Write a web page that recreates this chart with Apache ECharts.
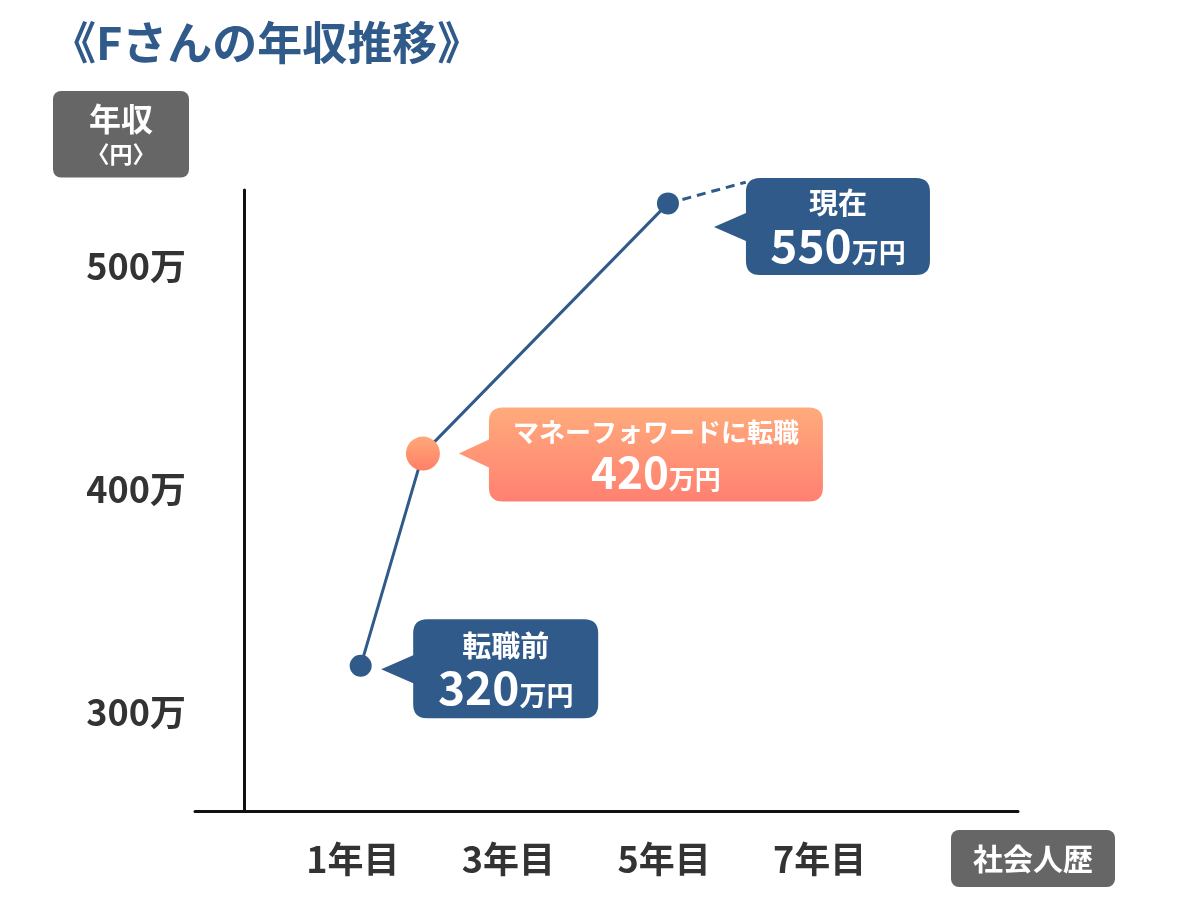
<!DOCTYPE html>
<html>
<head>
<meta charset="utf-8">
<script src="https://cdn.jsdelivr.net/npm/echarts@6/dist/echarts.min.js"></script>
<style>
  html, body { margin: 0; padding: 0; background: #fff; }
  #container { width: 1200px; height: 909px; }
</style>
</head>
<body>
<div id="container"></div>
<script>
const dom = document.getElementById('container')
const myChart = echarts.init(dom)

// 社会人歴 (年目) and 年収 (万円) as plotted
const years = [1.1, 1.9, 5.05]
const income = [321, 416, 528]
const futureYears = [5.05, 6.05]
const futureIncome = [528, 537.5]
const xTicks = [1, 3, 5, 7]
const yTicks = [300, 400, 500]
const notes = ['転職前', 'マネーフォワードに転職', '現在']
const noteValues = [320, 420, 550]

const blue = '#2f5a8a'
const font = '"Noto Sans CJK JP", "Noto Sans", sans-serif'

// speech bubble with a pointer on the left
function bubble(w, h, r, p, ty, bh) {
    return 'path://M' + (p + r) + ' 0 H' + (p + w - r) +
        ' Q' + (p + w) + ' 0 ' + (p + w) + ' ' + r +
        ' V' + (h - r) + ' Q' + (p + w) + ' ' + h + ' ' + (p + w - r) + ' ' + h +
        ' H' + (p + r) + ' Q' + p + ' ' + h + ' ' + p + ' ' + (h - r) +
        ' V' + (ty + bh) + ' L0 ' + ty + ' L' + p + ' ' + (ty - bh) +
        ' V' + r + ' Q' + p + ' 0 ' + (p + r) + ' 0 Z'
}

const orangeGrad = new echarts.graphic.LinearGradient(0, 0, 0, 1, [
    { offset: 0, color: '#ffab7c' },
    { offset: 1, color: '#ff8071' }
])
const dotGrad = new echarts.graphic.LinearGradient(0, 0, 0, 1, [
    { offset: 0, color: '#ffa877' },
    { offset: 1, color: '#ff7f68' }
])

const richBlue = {
    a: { fontSize: 29, fontWeight: 'bold', color: '#fff', lineHeight: 38, fontFamily: font },
    b: { fontSize: 46, fontWeight: 'bold', color: '#fff', lineHeight: 46, fontFamily: font },
    c: { fontSize: 27, fontWeight: 'bold', color: '#fff', lineHeight: 46, fontFamily: font, verticalAlign: 'bottom', padding: [0, 0, 2, 0] }
}
const richOrange = {
    a: { fontSize: 26, fontWeight: 'bold', color: '#fff', lineHeight: 36, fontFamily: font },
    b: { fontSize: 44, fontWeight: 'bold', color: '#fff', lineHeight: 44, fontFamily: font },
    c: { fontSize: 26, fontWeight: 'bold', color: '#fff', lineHeight: 44, fontFamily: font, verticalAlign: 'bottom', padding: [0, 0, 2, 0] }
}

const option = {
    backgroundColor: '#fff',
    animation: false,
    title: [
        {
            text: '《Fさんの年収推移》',
            left: 46,
            top: 15,
            textStyle: { color: blue, fontSize: 45, fontWeight: 'bold', fontFamily: font }
        },
        {
            text: '{a|年収}\n{b|〈円〉}',
            left: 53,
            top: 87,
            padding: [12, 0, 12, 0],
            backgroundColor: '#666',
            borderRadius: 8,
            textStyle: {
                rich: {
                    a: { width: 136, align: 'center', fontSize: 32, fontWeight: 'bold', color: '#fff', lineHeight: 40, fontFamily: font },
                    b: { width: 136, align: 'center', fontSize: 23, fontWeight: 'bold', color: '#fff', lineHeight: 30, fontFamily: font }
                }
            }
        },
        {
            text: '社会人歴',
            left: 951,
            top: 830,
            padding: [11, 22, 11, 22],
            backgroundColor: '#666',
            borderRadius: 8,
            textStyle: { color: '#fff', fontSize: 30, fontWeight: 'bold', lineHeight: 35, fontFamily: font }
        }
    ],
    grid: { left: 195, right: 182, top: 190, bottom: 98 },
    xAxis: {
        type: 'value',
        min: -1.03,
        max: 9.55,
        axisLine: { onZero: false, lineStyle: { color: '#111', width: 3 } },
        axisTick: { show: false },
        splitLine: { show: false },
        axisLabel: {
            customValues: xTicks,
            formatter: v => v + '年目',
            margin: 30,
            fontSize: 36,
            fontWeight: 'bold',
            color: '#333',
            fontFamily: font
        }
    },
    yAxis: {
        type: 'value',
        min: 256,
        max: 534,
        offset: -49,
        axisLine: { show: true, onZero: false, lineStyle: { color: '#111', width: 3 } },
        axisTick: { show: false },
        splitLine: { show: false },
        axisLabel: {
            customValues: yTicks,
            formatter: v => v + '万',
            margin: 58,
            fontSize: 36,
            fontWeight: 'bold',
            color: '#333',
            fontFamily: font
        }
    },
    series: [
        {
            type: 'line',
            z: 2,
            data: futureYears.map((x, i) => [x, futureIncome[i]]),
            showSymbol: false,
            clip: false,
            lineStyle: { color: blue, width: 3, type: [9, 6] }
        },
        {
            type: 'line',
            z: 3,
            clip: false,
            data: years.map((x, i) => ({
                value: [x, income[i]],
                symbolSize: i === 1 ? 34 : 22,
                itemStyle: { color: i === 1 ? dotGrad : blue, borderWidth: 0 }
            })),
            symbol: 'circle',
            lineStyle: { color: blue, width: 3 },
            markPoint: {
                z: 5,
                data: [
                    {
                        coord: [years[0], income[0]],
                        symbol: bubble(185, 99, 14, 32, 50, 14),
                        symbolSize: [217, 99],
                        symbolOffset: [129, 3],
                        itemStyle: { color: blue },
                        label: {
                            show: true,
                            position: 'inside',
                            offset: [16, 0],
                            formatter: '{a|' + notes[0] + '}\n{b|' + noteValues[0] + '}{c|万円}',
                            rich: richBlue
                        }
                    },
                    {
                        coord: [years[1], income[1]],
                        symbol: bubble(334, 94, 14, 30, 46, 14),
                        symbolSize: [364, 94],
                        symbolOffset: [218, 1],
                        itemStyle: { color: orangeGrad },
                        label: {
                            show: true,
                            position: 'inside',
                            offset: [15, 0],
                            formatter: '{a|' + notes[1] + '}\n{b|' + noteValues[1] + '}{c|万円}',
                            rich: richOrange
                        }
                    },
                    {
                        coord: [years[2], income[2]],
                        symbol: bubble(184, 97, 14, 32, 49, 14),
                        symbolSize: [216, 97],
                        symbolOffset: [154, 23],
                        itemStyle: { color: blue },
                        label: {
                            show: true,
                            position: 'inside',
                            offset: [16, 0],
                            formatter: '{a|' + notes[2] + '}\n{b|' + noteValues[2] + '}{c|万円}',
                            rich: richBlue
                        }
                    }
                ]
            }
        }
    ]
}

myChart.setOption(option)
</script>
</body>
</html>
